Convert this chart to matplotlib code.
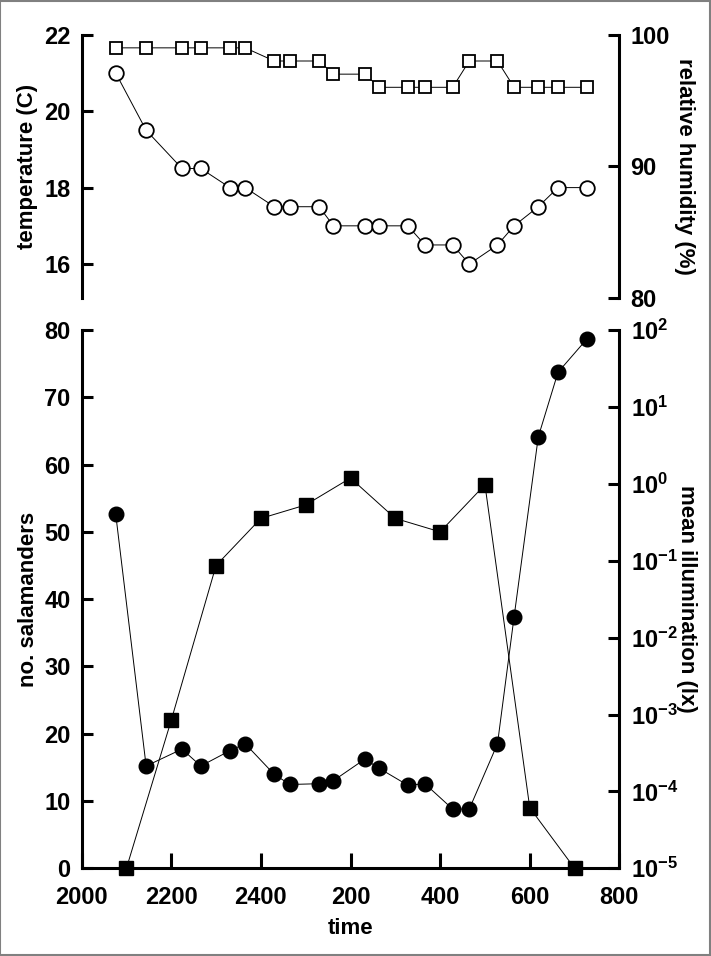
import numpy as np
import matplotlib
matplotlib.use("Agg")
import matplotlib.pyplot as plt
from matplotlib.ticker import FixedLocator, FuncFormatter, NullLocator
from matplotlib.patches import Rectangle

plt.rcParams['font.family'] = ['Liberation Sans', 'DejaVu Sans']
plt.rcParams['font.weight'] = 'bold'
plt.rcParams['mathtext.fontset'] = 'custom'
plt.rcParams['mathtext.rm'] = 'Liberation Sans:bold'
plt.rcParams['mathtext.bf'] = 'Liberation Sans:bold'
plt.rcParams['mathtext.default'] = 'bf'

# ---- data (hours after 20:00) ----
obs_hours = [0.76, 1.44, 2.24, 2.66, 3.31, 3.65, 4.30, 4.65, 5.30, 5.62, 6.32,
             6.64, 7.28, 7.66, 8.28, 8.65, 9.28, 9.65, 10.19, 10.63, 11.27]
temperature = [21.0, 19.5, 18.5, 18.5, 18.0, 18.0, 17.5, 17.5, 17.5, 17.0, 17.0,
               17.0, 17.0, 16.5, 16.5, 16.0, 16.5, 17.0, 17.5, 18.0, 18.0]
humidity = [99, 99, 99, 99, 99, 99, 98, 98, 98, 97, 97,
            96, 96, 96, 96, 98, 98, 96, 96, 96, 96]
illum_log = [-0.39, -3.67, -3.45, -3.67, -3.47, -3.38, -3.78, -3.91, -3.90, -3.86, -3.58,
             -3.70, -3.92, -3.90, -4.23, -4.23, -3.38, -1.73, 0.61, 1.45, 1.88]
illumination = [10 ** v for v in illum_log]
count_hours = [1, 2, 3, 4, 5, 6, 7, 8, 9, 10, 11]
salamanders = [0, 22, 45, 52, 54, 58, 52, 50, 57, 9, 0]
time_ticks = [0, 2, 4, 6, 8, 10, 12]
time_labels = ['2000', '2200', '2400', '200', '400', '600', '800']

W, H = 711, 956
fig = plt.figure(figsize=(W / 100, H / 100), dpi=100)
fig.patch.set_facecolor('white')
fig.patches.append(Rectangle((0.0007, 0.001), 0.9979, 0.998, transform=fig.transFigure,
                             fill=False, edgecolor='#808080', linewidth=1.5))

L, R = 81.6 / W, 619.4 / W
top_ax = fig.add_axes([L, 1 - 297.7 / H, R - L, (297.7 - 34.7) / H])
bot_ax = fig.add_axes([L, 1 - 868.3 / H, R - L, (868.3 - 330.0) / H])

FS = 17
LFS = 16
SPW = 2.2
tick_kw = dict(direction='in', length=8, width=SPW, labelsize=FS, pad=8)

# ---------- top panel ----------
top_ax.set_xlim(0, 12)
top_ax.set_ylim(15.12, 22)
for s in ['top', 'bottom', 'right']:
    top_ax.spines[s].set_visible(False)
top_ax.spines['left'].set_linewidth(SPW)
top_ax.xaxis.set_major_locator(NullLocator())
top_ax.set_yticks([16, 18, 20, 22])
top_ax.tick_params(axis='y', **tick_kw)
top_ax.plot(obs_hours, temperature, color='black', lw=0.7, marker='o', ms=10.5,
            mfc='white', mec='black', mew=1.3, zorder=3)
top_ax.set_ylabel('temperature (C)', fontsize=LFS, fontweight='bold', labelpad=4)

top_r = top_ax.twinx()
top_r.set_xlim(0, 12)
top_r.set_ylim(80, 100)
for s in ['top', 'bottom', 'left']:
    top_r.spines[s].set_visible(False)
top_r.spines['right'].set_linewidth(SPW)
top_r.set_yticks([80, 90, 100])
top_r.tick_params(axis='y', **tick_kw)
top_r.plot(obs_hours, humidity, color='black', lw=0.7, marker='s', ms=8.5,
           mfc='white', mec='black', mew=1.3, zorder=3)
top_r.set_ylabel('relative humidity (%)', fontsize=LFS, fontweight='bold',
                 rotation=270, labelpad=18)

# ---------- bottom panel ----------
bot_ax.set_xlim(0, 12)
bot_ax.set_ylim(0, 80)
bot_ax.spines['top'].set_visible(False)
bot_ax.spines['right'].set_visible(False)
bot_ax.spines['left'].set_linewidth(SPW)
bot_ax.spines['bottom'].set_linewidth(SPW)
bot_ax.set_xticks(time_ticks)
bot_ax.set_xticklabels(time_labels)
bot_ax.set_yticks(range(0, 81, 10))
bot_ax.tick_params(axis='both', **tick_kw)
bot_ax.tick_params(axis='x', pad=13, length=11)
bot_ax.plot(count_hours, salamanders, color='black', lw=0.7, marker='s', ms=9.5,
            mfc='black', mec='black', zorder=3, clip_on=False)
bot_ax.set_ylabel('no. salamanders', fontsize=LFS, fontweight='bold', labelpad=4)
bot_ax.set_xlabel('time', fontsize=LFS, fontweight='bold', labelpad=6)

bot_r = bot_ax.twinx()
bot_r.set_xlim(0, 12)
bot_r.set_yscale('log')
bot_r.set_ylim(1e-5, 1e2)
for s in ['top', 'bottom', 'left']:
    bot_r.spines[s].set_visible(False)
bot_r.spines['right'].set_linewidth(SPW)
bot_r.yaxis.set_major_locator(FixedLocator([10.0 ** k for k in range(-5, 3)]))
bot_r.yaxis.set_minor_locator(NullLocator())
bot_r.yaxis.set_major_formatter(FuncFormatter(
    lambda v, p: r'$10^{%d}$' % int(round(np.log10(v)))))
bot_r.tick_params(axis='y', **tick_kw)
bot_r.plot(obs_hours, illumination, color='black', lw=0.7, marker='o', ms=10.5,
           mfc='black', mec='black', zorder=3, clip_on=False)
bot_r.set_ylabel('mean illumination (lx)', fontsize=LFS, fontweight='bold',
                 rotation=270, labelpad=14)

for ax in (top_ax, top_r, bot_ax, bot_r):
    for t in ax.get_yticklabels() + ax.get_xticklabels():
        t.set_fontweight('bold')

fig.savefig('out.png', dpi=100)
